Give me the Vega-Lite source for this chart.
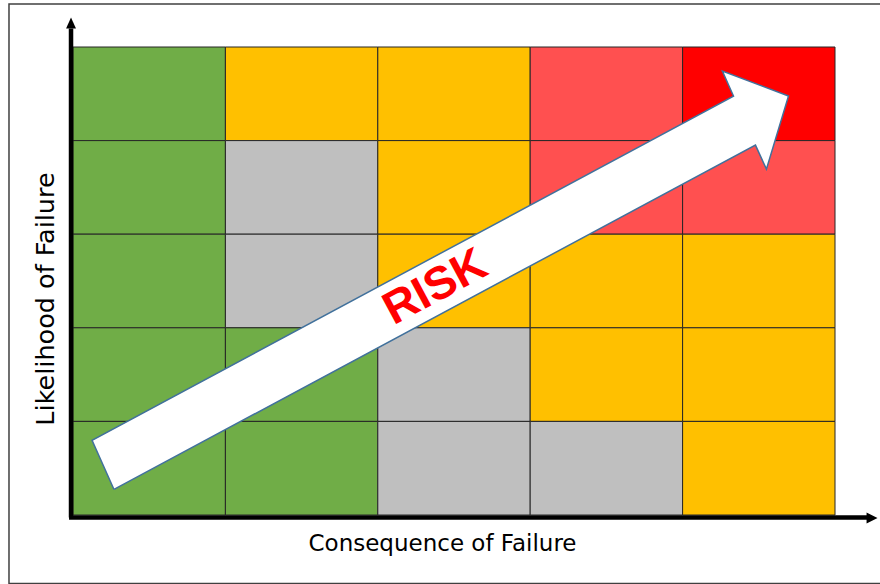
{
  "$schema": "https://vega.github.io/schema/vega-lite/v6.json",
  "width": 762,
  "height": 468,
  "autosize": "none",
  "padding": {"left": 73, "top": 47, "right": 45, "bottom": 69},
  "background": "white",
  "config": {
    "view": {"stroke": null},
    "axis": {"domain": false, "ticks": false, "labels": false, "grid": false, "titleColor": "#000000", "titleFontWeight": "normal", "titleFont": "DejaVu Sans"}
  },
  "datasets": {
    "cells": [
      {"x0": 0, "x1": 1, "y0": 4, "y1": 5, "level": "green"},
      {"x0": 1, "x1": 2, "y0": 4, "y1": 5, "level": "yellow"},
      {"x0": 2, "x1": 3, "y0": 4, "y1": 5, "level": "yellow"},
      {"x0": 3, "x1": 4, "y0": 4, "y1": 5, "level": "pink"},
      {"x0": 4, "x1": 5, "y0": 4, "y1": 5, "level": "red"},
      {"x0": 0, "x1": 1, "y0": 3, "y1": 4, "level": "green"},
      {"x0": 1, "x1": 2, "y0": 3, "y1": 4, "level": "grey"},
      {"x0": 2, "x1": 3, "y0": 3, "y1": 4, "level": "yellow"},
      {"x0": 3, "x1": 4, "y0": 3, "y1": 4, "level": "pink"},
      {"x0": 4, "x1": 5, "y0": 3, "y1": 4, "level": "pink"},
      {"x0": 0, "x1": 1, "y0": 2, "y1": 3, "level": "green"},
      {"x0": 1, "x1": 2, "y0": 2, "y1": 3, "level": "grey"},
      {"x0": 2, "x1": 3, "y0": 2, "y1": 3, "level": "yellow"},
      {"x0": 3, "x1": 4, "y0": 2, "y1": 3, "level": "yellow"},
      {"x0": 4, "x1": 5, "y0": 2, "y1": 3, "level": "yellow"},
      {"x0": 0, "x1": 1, "y0": 1, "y1": 2, "level": "green"},
      {"x0": 1, "x1": 2, "y0": 1, "y1": 2, "level": "green"},
      {"x0": 2, "x1": 3, "y0": 1, "y1": 2, "level": "grey"},
      {"x0": 3, "x1": 4, "y0": 1, "y1": 2, "level": "yellow"},
      {"x0": 4, "x1": 5, "y0": 1, "y1": 2, "level": "yellow"},
      {"x0": 0, "x1": 1, "y0": 0, "y1": 1, "level": "green"},
      {"x0": 1, "x1": 2, "y0": 0, "y1": 1, "level": "green"},
      {"x0": 2, "x1": 3, "y0": 0, "y1": 1, "level": "grey"},
      {"x0": 3, "x1": 4, "y0": 0, "y1": 1, "level": "grey"},
      {"x0": 4, "x1": 5, "y0": 0, "y1": 1, "level": "yellow"}
    ],
    "frame": [{"x": -0.42, "x2": 5.32, "y": -0.733, "y2": 5.46}],
    "axes": [
      {"x": -0.013, "x2": -0.013, "y": -0.027, "y2": 5.198},
      {"x": -0.026, "x2": 5.21, "y": -0.027, "y2": -0.027}
    ],
    "ytip": [{"x": -0.013, "y": 5.256}],
    "xtip": [{"x": 5.243, "y": -0.032}],
    "arrow": [
      {"o": 1, "x": 0.269, "y": 0.273},
      {"o": 2, "x": 0.125, "y": 0.797},
      {"o": 3, "x": 4.334, "y": 4.476},
      {"o": 4, "x": 4.261, "y": 4.743},
      {"o": 5, "x": 4.695, "y": 4.476},
      {"o": 6, "x": 4.55, "y": 3.695},
      {"o": 7, "x": 4.478, "y": 3.952},
      {"o": 8, "x": 0.269, "y": 0.273}
    ],
    "label": [{"x": 2.377, "y": 2.433, "text": "RISK"}]
  },
  "layer": [
    {
      "data": {"name": "cells"},
      "mark": {"type": "rect", "stroke": "#262626", "strokeWidth": 1},
      "encoding": {
        "x": {"field": "x0", "type": "quantitative", "scale": {"domain": [0, 5], "nice": false},
          "axis": {"title": "Consequence of Failure", "titleFontSize": 23,
            "titleX": 369, "titleY": 35, "titleBaseline": "alphabetic", "titleAlign": "center"}},
        "x2": {"field": "x1"},
        "y": {"field": "y0", "type": "quantitative", "scale": {"domain": [0, 5], "nice": false},
          "axis": {"title": "Likelihood of Failure", "titleFontSize": 25.5,
            "titleX": -20, "titleY": 251.5, "titleAngle": 270, "titleBaseline": "alphabetic", "titleAlign": "center"}},
        "y2": {"field": "y1"},
        "color": {"field": "level", "type": "nominal", "legend": null,
          "scale": {"domain": ["green", "yellow", "grey", "pink", "red"],
            "range": ["#70AD47", "#FFC000", "#BFBFBF", "#FF5050", "#FF0000"]}}
      }
    },
    {
      "data": {"name": "frame"},
      "mark": {"type": "rect", "fillOpacity": 0, "fill": "white", "stroke": "#404040", "strokeWidth": 1.5},
      "encoding": {
        "x": {"field": "x", "type": "quantitative", "scale": {"domain": [0, 5], "nice": false}},
        "x2": {"field": "x2"},
        "y": {"field": "y", "type": "quantitative", "scale": {"domain": [0, 5], "nice": false}},
        "y2": {"field": "y2"}
      }
    },
    {
      "data": {"name": "axes"},
      "mark": {"type": "rule", "color": "#000000", "strokeWidth": 4.5},
      "encoding": {
        "x": {"field": "x", "type": "quantitative", "scale": {"domain": [0, 5], "nice": false}},
        "x2": {"field": "x2"},
        "y": {"field": "y", "type": "quantitative", "scale": {"domain": [0, 5], "nice": false}},
        "y2": {"field": "y2"}
      }
    },
    {
      "data": {"name": "ytip"},
      "mark": {"type": "point", "filled": true, "color": "#000000", "opacity": 1, "size": 121, "shape": "M0,-1L0.9,1L-0.9,1Z"},
      "encoding": {
        "x": {"field": "x", "type": "quantitative", "scale": {"domain": [0, 5], "nice": false}},
        "y": {"field": "y", "type": "quantitative", "scale": {"domain": [0, 5], "nice": false}}
      }
    },
    {
      "data": {"name": "xtip"},
      "mark": {"type": "point", "filled": true, "color": "#000000", "opacity": 1, "size": 121, "shape": "M1,0L-1,1L-1,-1Z"},
      "encoding": {
        "x": {"field": "x", "type": "quantitative", "scale": {"domain": [0, 5], "nice": false}},
        "y": {"field": "y", "type": "quantitative", "scale": {"domain": [0, 5], "nice": false}}
      }
    },
    {
      "data": {"name": "arrow"},
      "mark": {"type": "line", "fill": "#FFFFFF", "stroke": "#41719C", "strokeWidth": 1.5, "strokeJoin": "miter"},
      "encoding": {
        "x": {"field": "x", "type": "quantitative", "scale": {"domain": [0, 5], "nice": false}},
        "y": {"field": "y", "type": "quantitative", "scale": {"domain": [0, 5], "nice": false}},
        "order": {"field": "o", "type": "quantitative"}
      }
    },
    {
      "data": {"name": "label"},
      "mark": {"type": "text", "font": "Liberation Sans", "fontSize": 46, "fontWeight": "bold", "color": "#FF0000",
        "angle": -28.2, "align": "center", "baseline": "middle"},
      "encoding": {
        "x": {"field": "x", "type": "quantitative", "scale": {"domain": [0, 5], "nice": false}},
        "y": {"field": "y", "type": "quantitative", "scale": {"domain": [0, 5], "nice": false}},
        "text": {"field": "text"}
      }
    }
  ]
}
